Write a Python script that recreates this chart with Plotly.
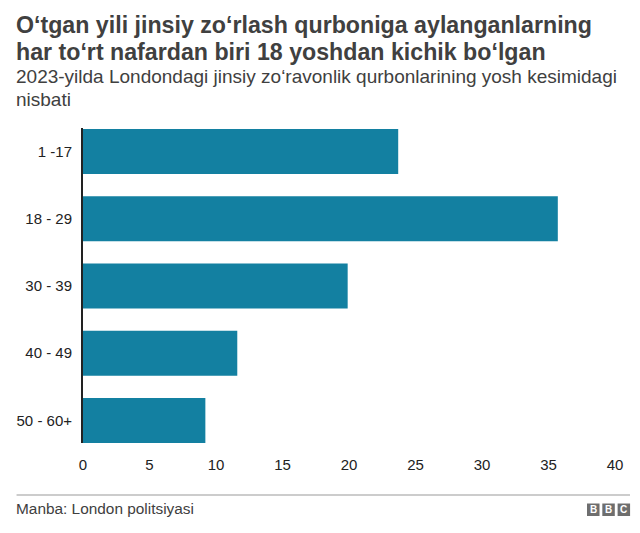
import plotly.graph_objects as go

categories = ["1 -17", "18 - 29", "30 - 39", "40 - 49", "50 - 60+"]
values = [23.7, 35.7, 19.9, 11.6, 9.2]
tick_values = [0, 5, 10, 15, 20, 25, 30, 35, 40]
title_lines = ["O‘tgan yili jinsiy zo‘rlash qurboniga aylanganlarning", "har to‘rt nafardan biri 18 yoshdan kichik bo‘lgan"]
subtitle_lines = ["2023-yilda Londondagi jinsiy zo‘ravonlik qurbonlarining yosh kesimidagi", "nisbati"]
source = "Manba: London politsiyasi"
logo_letters = ["B", "B", "C"]

W, H = 640, 533
FONT = "Liberation Sans"
fig = go.Figure(go.Bar(y=categories, x=values, orientation="h", marker=dict(color="#1380A1", line_width=0), width=0.669))

L, R, T, B = 82.5, 615, 128, 443
fig.update_layout(
    width=W, height=H, autosize=False, margin=dict(l=L, r=W-R, t=T, b=H-B),
    paper_bgcolor="white", plot_bgcolor="white", showlegend=False,
    font=dict(family=FONT, size=15, color="#222222"),
    xaxis=dict(range=[0, 40], tickvals=tick_values, showgrid=False, zeroline=False, showline=False,
               ticks="", tickfont=dict(size=15, color="#222222"), ticklabelstandoff=11),
    yaxis=dict(categoryorder="array", categoryarray=categories[::-1], range=[-0.335, 4.349], showgrid=False, zeroline=False,
               showline=True, linecolor="#222222", linewidth=2, ticks="", ticklabelstandoff=6,
               tickfont=dict(size=15, color="#222222")),
)

def txt(x, y, s, size, color="#404040", bold=False, **kw):
    fig.add_annotation(xref="paper", yref="paper", x=(x-L)/(R-L), y=(B-y)/(B-T), text=f"<b>{s}</b>" if bold else s,
                       showarrow=False, xanchor=kw.get("xanchor", "left"), yanchor="middle", align="left",
                       borderpad=0, font=dict(family=FONT, size=size, color=color))

txt(14, 24.5, title_lines[0], 23.2, bold=True)
txt(14, 52.5, title_lines[1], 23.2, bold=True)
txt(14, 77, subtitle_lines[0], 19)
txt(14, 99, subtitle_lines[1], 19)
txt(14, 508.5, source, 15.4, color="#404040")

fig.add_shape(type="line", xref="paper", yref="paper", x0=(16-L)/(R-L), x1=(630-L)/(R-L), y0=(B-495)/(B-T), y1=(B-495)/(B-T), line=dict(color="#999999", width=1))
for i, ch in enumerate(logo_letters):
    x0 = 587 + i*15.3
    fig.add_shape(type="rect", xref="paper", yref="paper", x0=(x0-L)/(R-L), x1=(x0+12.5-L)/(R-L), y0=(B-516)/(B-T), y1=(B-503.5)/(B-T), fillcolor="#6E6E6E", line_width=0)
    txt(x0+6.25, 509.5, ch, 10, color="white", bold=True, xanchor="center")

fig.write_html("out.html", config={"displayModeBar": False}, post_script="document.body.style.margin='0';")
